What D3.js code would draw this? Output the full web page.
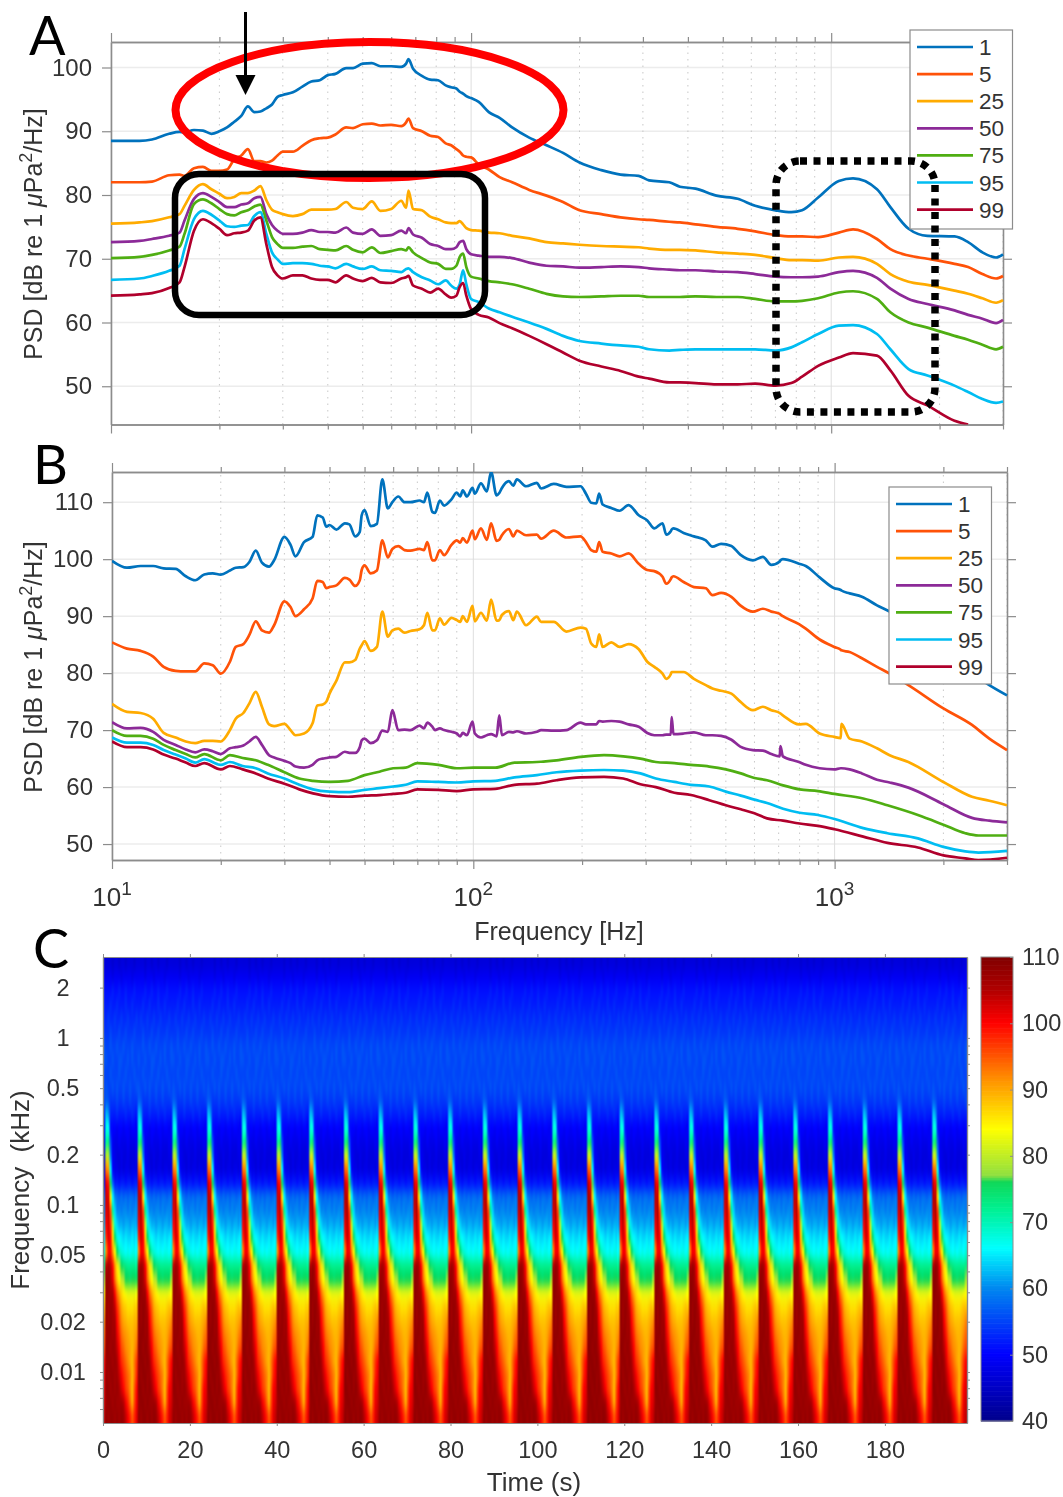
<!DOCTYPE html>
<html>
<head>
<meta charset="utf-8">
<script src="https://cdn.jsdelivr.net/npm/d3@7"></script>
<style>
  body { margin: 0; background: #fff; }
  #wrap { position: relative; width: 1063px; height: 1497px; }
  canvas, svg { position: absolute; left: 0; top: 0; }
  text { font-family: "Liberation Sans", sans-serif; fill: #333; }
</style>
</head>
<body>
<div id="wrap">
  <canvas id="spec" width="1063" height="1497"></canvas>
  <svg id="chart" width="1063" height="1497"></svg>
</div>
<script>
// values

const percentiles = ["1", "5", "25", "50", "75", "95", "99"];
const lineColors = ["#0072bd", "#ff5208", "#ffab00", "#8c2a98", "#4fae12", "#00bdf2", "#b0002c"];

// Panel A, frequency (Hz)
const freqA = [
  10,12,13,14.5,15.5,16,17,18,19,20,
  21,22,23,24,25,26,27,28,29,30,
  32,34,36,38,40,42,45,47,50,53,
  56,60,64,66,67,69,73,77,81,85,
  88,91,93,95,97,100,105,112,120,130,
  145,162,180,200,230,260,292,312,355,380,
  420,480,550,615,700,775,830,920,1050,1150,
  1340,1460,1640,1850,2200,2400,2630,2870,3000];

const a1 = [
  88.5,88.5,88.7,89.6,89.9,89.8,90.2,90.1,89.6,90,
  90.6,91.5,92.4,93.9,93,93.1,93.6,94.2,95.4,95.7,
  96.1,97,97.8,98,98.8,99,99.9,99.9,100.6,100.7,
  100.2,100.2,100.1,100.6,101.3,99.8,98.7,98.1,98,97.2,
  96.9,96.7,96.2,95.9,95.5,95.2,94.6,93,92.1,90.6,
  89,87.8,86.6,85.1,83.9,83.2,83,82.3,82,81.3,
  81,79.9,79.4,78.3,77.6,77.3,77.6,79.6,82.2,82.6,
  80.9,78.1,74.7,73.6,73.5,72.6,71,70.2,70.7];
const a5 = [
  82,82,82.1,83.1,83.2,83,84.2,84.4,83.8,83.8,
  84,85.6,86.2,87.2,85.3,85.3,85.1,85.4,86.2,86.8,
  86.8,87.7,88.6,88.9,89,89.5,90.6,90.5,91.1,91.2,
  90.9,91,90.8,91.4,92,90.5,90,89.3,89.1,88.1,
  87.8,87.2,86.8,86.2,86,85.9,84.8,84,82.8,82,
  80.8,79.9,78.9,77.6,77,76.5,76.2,76.1,75.8,75.7,
  75.4,75,74.7,74.3,73.7,73.5,73.5,73.4,74.1,74.6,
  73.1,71.5,70.5,70,69.2,68.7,67.6,66.9,67.3];
const a25 = [
  75.5,75.7,75.9,76.5,77,78.3,80.8,81.7,80.9,80.2,
  79.5,79.7,80.3,80.3,80.7,81.4,79.2,77.7,77.3,77,
  76.7,77,77.7,77.7,77.7,77.8,78.9,78,77.8,79,
  77.5,77.8,79.1,78,80.7,77.8,77.6,76.6,76.2,75.7,
  75.6,75.6,75.9,75.4,74.8,74.5,74.4,74.1,74,73.6,
  73.2,72.6,72.4,72.2,72,71.9,71.8,71.6,71.4,71.4,
  71.3,71,70.8,70.6,70.1,69.8,69.8,69.7,70.2,70.3,
  69.2,67.6,66.4,65.9,65,64.5,63.8,63.1,63.5];
const a50 = [
  72.6,72.8,73.1,73.6,74.1,76,79.4,80.3,79.7,78.9,
  78.1,78.1,78.5,78.7,79.5,79.7,77,75.3,74.4,73.9,
  73.9,74.1,74.5,74.2,74.2,74.1,74.9,74.1,73.9,74.6,
  73.6,73.7,74.4,74,74.8,73.8,73.3,72.3,72,71.5,
  71.5,71.8,72.6,72.8,71.5,70.7,70.5,70.3,70.3,70.1,
  69.4,68.9,68.8,68.6,68.7,68.8,68.7,68.5,68.3,68.2,
  68.2,68,67.9,67.6,67.2,67.1,67.1,67.2,67.9,68.1,
  67,65.3,63.7,62.9,61.9,61.2,60.6,59.9,60.4];
const a75 = [
  70.1,70.3,70.6,71.3,71.9,73.9,78.6,79.3,78.7,77.8,
  77,76.8,77.3,77.6,78.2,78.5,76,73.4,72.3,71.7,
  71.7,71.9,72,71.5,71.4,71.3,72,71.4,71,71.8,
  70.9,71.2,71.5,71.3,71.8,71,70.1,69.4,69.2,68.4,
  68.4,68.9,70.3,70.8,68.7,67.2,66.9,66.5,66.3,66,
  65.3,64.5,64.1,64,64.1,64.2,64.2,64,64,64,
  64.1,64,64,63.7,63.3,63.3,63.4,63.8,64.7,64.9,
  63.7,61.6,60,59.2,57.9,57.3,56.5,55.8,56.2];
const a95 = [
  66.7,66.9,67.3,68.1,68.9,71.5,76.2,77.5,76.9,76,
  75.1,75,75.2,75.3,76.7,77.3,73.9,71,69.9,69.2,
  69.3,69.3,69.2,68.9,68.8,68.5,69.2,68.8,68.4,68.8,
  68.2,68.1,67.9,68.4,68.5,67.9,67.1,66.6,66,66.6,
  65.8,65.3,66,68.2,66,63.7,63.2,62.2,61.6,60.9,
  60,59,57.9,57.1,56.7,56.4,56.2,55.8,55.6,55.7,
  55.8,55.8,55.8,55.8,55.6,56.1,56.9,58.2,59.5,59.6,
  58.2,55.8,52.7,51.7,50.1,49.1,48,47.4,47.6];
// 99 leaves the axes near 2450 Hz, nothing to read after that
const a99 = [
  64.2,64.4,64.6,65.4,66.3,68.7,74.4,76.2,75.6,74.7,
  73.7,74,74.1,74.4,76,76.5,72.3,68.7,67.4,66.9,
  67.4,67.4,66.9,66.7,66.7,66.3,67.4,66.9,66.5,67,
  66.3,66.2,66.9,67.1,67.3,65.8,65.3,64.7,65.3,64.4,
  63.9,64.2,65.6,66.2,64.2,62.1,61.2,60.8,59.9,59.1,
  57.9,56.6,55.3,54,53.1,52.4,51.5,51.2,50.6,50.6,
  50.5,50.3,50.3,50.4,50.1,50.5,51.5,53.2,54.5,55.2,
  54.8,52.5,48.5,47,44.6,44,null,null,null];

// Panel B, frequency (Hz) for the spiky curves 1, 5, 25, 50
const freqB = [
  10,11,12,13,13.9,15,16,17,18,19,
  20,21.2,22,23.1,24,25,26,27.2,28.1,30,
  31.2,32.2,34,35.9,37,38.3,39.2,40,41.8,44.1,
  45.4,47.1,48.5,49.1,50,52,54.1,56,58,59.7,
  62,64.5,67,71,73,74.6,77,78.3,80.8,83,
  87,90,92,93.5,96,99.5,101,105,109,112,
  116,118,120,125.5,129,132,140,150,154,167,
  181,198,205,212,219,223,228,241,254,269,
  287,303,317,334,342,352,354,358,382,408,
  440,459,485,518,548,594,633,668,705,708,
  719,797,832,909,998,1040,1044,1100,1190,1310,
  1420,1600,2000,2400,2680,3000];

const b1 = [
  99.7,98.5,98.8,98.8,98.4,98.3,97,96.3,97.3,97.5,
  97.3,98,98.5,98.6,99.5,101.5,99.4,98.7,99.8,103.9,
  102.5,100.5,103,103.9,107.7,107.3,105.7,106,105.2,106.3,
  106.1,104,104.8,107.7,108.6,105.8,106.2,114,108.9,110,
  111,110,110,110.3,110,111.7,108.3,108.1,110.3,109.4,
  110.5,111.7,111,112.1,111,112.5,111.5,113.3,111.9,115.3,
  111.2,111.6,112.5,113.7,112.9,114,112.8,113.4,112.4,113.2,
  112.7,112.8,111.5,109.9,109.8,111.5,109.6,109,108.5,109.5,
  107.7,106.8,105.4,106.3,104.3,104.9,105.2,105.4,104.6,104,
  103.3,102.2,102.7,102.3,100.8,99.8,100.4,99,99.6,99.8,
  100,99.2,98.8,96.8,94.9,94.6,94.5,94,93.4,91.9,
  90.8,88.5,84,80,77.9,76.1];
const b5 = [
  85.4,84.3,83.9,82.9,81.1,80.4,80.3,80.3,81.7,81.4,
  79.9,82,84.6,85.1,86.7,89.1,87.5,87.1,88.4,92.6,
  91.6,90,91.2,93.1,96.2,96,94.9,95.1,95.4,96.7,
  96.4,95.3,96.3,98.1,98.9,97.5,98,103.3,100.3,101.8,
  102.3,101.6,101.5,101.8,101.6,103,99.8,99.8,101.6,100.7,
  102.5,103.3,102.9,103.7,102.9,105,103.5,105.4,103.4,106.3,
  103.2,103.4,104.2,105.3,104,105,104.2,104.3,103.6,105,
  103.8,104,103,101.6,101.3,103,101.3,101,100.5,101,
  99.2,98.1,97.9,96.9,95.7,96.5,96.8,97,96,95.1,
  94.9,93.7,94.1,93.4,91.9,90.8,91.3,90.8,90.4,90.3,
  90,88.6,87.8,85.9,84.6,84.1,84,83.7,82.6,81.1,
  79.9,77.9,73.8,70.9,68.5,66.5];
const b25 = [
  74.6,73.2,73,72,69.5,68.7,68,67.7,68.1,68.1,
  68,70,72,73,74.7,76.7,74.1,71,70.7,71.1,
  70,69.1,69.4,71.2,74.3,74.5,75,76.4,78.7,81.9,
  81.9,82.3,84.3,84.9,85.6,83.9,84.6,90.8,86.4,87.5,
  87.8,87.1,87.4,87.7,88.4,90.6,87.5,87.5,89.6,88.5,
  89.7,89.3,89,90,89,91.8,89.1,90.6,89.2,92.9,
  89.2,89.3,90.2,90.9,89.3,90.8,88.4,89.9,89,89,
  87.3,88,87.8,85.2,84.6,86.8,84.6,85.4,84.6,85.1,
  84.2,82,81.1,79.9,79,79.8,80.2,80.2,80.2,79,
  77.9,77.3,76.9,76.4,75,73.5,74.1,73.5,73,72.9,
  72.6,71,71.1,69.4,68.8,68.6,71.1,68.5,68,66.8,
  65.6,64.4,60.9,58.3,57.6,56.8];
const b50 = [
  71.4,70.3,70.4,69.7,68.3,67.4,66.6,66.1,66.6,66.3,
  65.8,66.8,67,67.3,68,68.8,67.4,65.6,65.2,64.6,
  64.2,63.6,63.4,63.9,64.7,65,65.1,65.2,65.3,66.2,
  66,66,67,68.2,68.5,67.7,68.2,69.9,69.7,73.5,
  70,70.1,70,70.8,70.3,71.3,70.6,70,70.3,70,
  69.7,69.4,68.9,69.5,69.1,71.5,69.4,68.7,69.1,69.3,
  68.9,72.6,69.1,69.7,69.6,69.8,69.4,69.7,70,69.9,
  70,71.3,71,71,71,71.6,71.5,71.6,71.5,71,
  70.6,69.5,69.1,69.1,69.2,69.2,72.3,69.3,69.4,69.6,
  69.1,69.1,69,68.3,67.1,66.5,66.4,65.8,65.4,67.2,
  65.4,64.4,63.9,63.3,63.1,63.3,63.3,63.1,62.4,61.3,
  60.8,59.9,57,54.6,54.1,53.8];

// Panel B, frequency (Hz) for the smooth curves 75, 95, 99
const freqBLow = [
  10,11,12,13,13.9,15,16,17,18,20,
  21.2,23,25,27,30,33,36,40,45,50,
  55,60,65,70,80,90,100,115,130,150,
  170,198,230,260,290,320,360,400,450,500,
  550,600,650,720,800,900,1000,1200,1400,1700,
  2000,2300,2500,3000];

const b75 = [
  70,69,69,68.5,67.4,66.5,65.8,65.2,65.8,64.7,
  65.6,65.1,64.7,63.9,62.6,61.5,61.1,60.9,61.1,62.1,
  62.7,63.3,63.4,64.2,63.9,63.3,63.4,63.4,64.3,64.4,
  64.7,65.3,65.6,65.4,65,64.4,64.2,63.9,63.6,63.1,
  62.4,61.6,61.2,60.3,59.6,59.3,58.8,58,56.8,55.1,
  53.4,51.9,51.5,51.5];
const b95 = [
  68.7,67.8,67.8,67.4,66.5,65.7,65,64.3,64.9,63.9,
  64.4,63.7,63.3,62.4,61.5,60.4,59.6,59.2,59.1,59.5,
  59.8,60.1,60.4,61,60.9,60.8,61,61.1,61.7,62.1,
  62.6,62.9,63,62.9,62.4,61.5,60.9,60.4,60.1,59.2,
  58.5,57.8,57.2,56.2,55.5,55.1,54.4,52.8,51.9,51,
  49.5,48.7,48.5,48.8];
const b99 = [
  68,67,67,66.6,65.7,65,64.3,63.7,64.2,63.1,
  63.7,63.1,62.4,61.5,60.6,59.6,58.9,58.4,58.3,58.5,
  58.6,58.8,59,59.6,59.5,59.3,59.6,59.7,60.4,60.6,
  61.2,61.7,61.8,61.5,60.5,60,59,58.6,57.7,56.8,
  56.1,55.4,54.5,54.1,53.6,53.2,52.6,51.3,50.2,49.4,
  48,47.5,47.2,47.6];

const psdTicksA = [50, 60, 70, 80, 90, 100];
const psdTicksB = [50, 60, 70, 80, 90, 100, 110];
const freqMajor = [10, 100, 1000];
const freqMinor = [20,30,40,50,60,70,80,90,200,300,400,500,600,700,800,900,2000,3000];

// Panel C. One typical blast cycle per frequency row, 0.5 s steps after each
// onset, levels in dB estimated by eye. Pixel grain of the original is not
// reproduced, only the level pattern.
const specFreqs = [3,2.48,2.05,1.7,1.4,1.16,.96,.8,.66,.55,.45,.37,.31,.26,.21,.175,.145,.12,.1,.082,.068,.056,.046,.038,.032,.026,.022,.018,.015,.012,.01,.0083,.0068,.0056];
const cycleLevels = [
  [47,47,47,46,47,47,46,47,47,46,47,47,47,46,47,47],
  [49,49,49,48,49,49,49,48,49,49,49,49,48,49,49,49],
  [51,51,51,52,51,51,52,51,51,52,51,51,51,52,51,51],
  [52,52,53,52,52,53,52,52,52,53,52,52,53,52,52,52],
  [53,54,53,53,54,53,53,54,53,53,54,53,53,53,54,53],
  [54,54,55,54,54,54,55,54,54,55,54,54,54,55,54,54],
  [55,55,56,55,55,56,55,55,56,55,55,55,56,55,55,56],
  [56,55,55,56,55,55,56,56,55,55,56,55,56,55,55,56],
  [55,55,56,55,55,55,56,55,55,56,55,55,55,56,55,55],
  [56,55,55,56,55,56,55,55,56,55,55,56,55,55,56,55],
  [57,56,54,54,54,55,54,54,55,54,54,55,54,54,54,55],
  [63,61,53,52,52,53,52,52,52,53,52,52,53,52,52,52],
  [68,67,52,50,50,49,50,50,49,50,50,49,50,50,49,50],
  [72,74,56,49,48,48,49,48,48,48,49,48,48,48,49,48],
  [80,80,60,49,48,47,47,48,47,47,48,47,47,47,48,47],
  [94,92,66,51,48,48,47,48,47,48,48,47,48,48,47,48],
  [103,100,76,58,52,52,51,52,52,51,52,52,51,52,52,51],
  [104,104,86,66,60,58,57,58,57,58,57,58,58,57,58,58],
  [103,105,96,72,64,60,60,59,60,60,59,60,59,60,60,59],
  [101,104,98,80,68,64,62,62,61,62,62,61,62,62,61,62],
  [98,103,100,88,76,68,66,65,64,65,64,64,65,64,65,65],
  [92,100,100,92,84,76,70,68,67,66,67,66,67,67,66,68],
  [105,107,105,100,92,86,80,76,74,73,72,72,72,72,72,73],
  [108,108,106,102,94,88,84,80,78,76,76,75,76,76,76,78],
  [108,108,107,106,100,94,90,87,85,83,82,82,82,82,83,84],
  [108,107,108,107,104,98,94,90,88,87,86,86,86,87,88,88],
  [108,107,108,107,106,100,96,92,90,89,88,88,88,89,90,92],
  [107,108,108,107,107,102,98,94,92,91,90,89,89,90,92,94],
  [108,108,107,108,107,104,100,96,94,92,91,90,89,91,94,96],
  [107,108,108,107,108,106,102,98,96,94,92,90,89,93,97,100],
  [108,107,108,108,107,107,104,101,98,96,94,92,89,93,98,101],
  [108,108,107,108,107,108,106,103,100,97,95,92,89,95,100,102],
  [107,108,108,107,108,107,107,107,105,101,98,94,90,96,101,103],
  [108,107,108,108,107,108,107,108,107,104,101,98,95,98,102,104]
];
const pulseTimes = [0.3,8,16,24,32,39.7,47.5,55.5,63.3,71.3,79.1,87.2,95.3,103.1,111.1,118.9,126.9,134.8,142.9,151,158.8,166.8,174.7,182.8,190.8,198.6];
const pulseGain = [0.97,1,0.98,1,0.99,0.98,1,1.01,0.98,1,0.99,1,1.01,1,1.02,0.99,1,1,0.98,1,0.99,1,1,0.99,1.01,0.97];

const specTicksY = [2, 1, 0.5, 0.2, 0.1, 0.05, 0.02, 0.01];
const specMinorY = [0.9,0.8,0.7,0.6,0.4,0.3,0.09,0.08,0.07,0.06,0.04,0.03,0.009,0.008,0.007,0.006];
const specTicksT = [0,20,40,60,80,100,120,140,160,180];
const cbarTicks = [40,50,60,70,80,90,100,110];

// colour bar stops as seen next to panel C
const cbarStops = [40, 50, 60, 66, 72, 76, 77, 84, 91, 100, 105, 110];
const cbarColors = ["#00008c","#0000ff","#0088f0","#00ffff","#00f090","#10d858","#90e040","#ffff00","#ff9800","#ff0000","#b00000","#800000"];

const svg = d3.select("#chart");
const gray = "#8c8c8c";

function styleAxis(g) {
  g.selectAll(".domain").attr("stroke", gray).attr("stroke-width", 1.6);
  g.selectAll(".tick line").attr("stroke", gray).attr("stroke-width", 1.2);
}

// A and B share the same frame
function psdPanel(o) {
  const x = d3.scaleLog().domain([10, 3000]).range(o.xRange);
  const y = d3.scaleLinear().domain(o.yDomain).range(o.yRange);
  const g = svg.append("g");

  // grid
  g.append("g").selectAll("line").data(o.yTicks).join("line")
    .attr("x1", o.xRange[0]).attr("x2", o.xRange[1])
    .attr("y1", d => y(d)).attr("y2", d => y(d))
    .attr("stroke", "#ececec").attr("stroke-width", 1.5);
  g.append("g").selectAll("line").data(freqMinor).join("line")
    .attr("x1", d => x(d)).attr("x2", d => x(d))
    .attr("y1", o.yRange[0]).attr("y2", o.yRange[1])
    .attr("stroke", "#c8c8c8").attr("stroke-dasharray", "1.5,5");
  g.append("g").selectAll("line").data(freqMajor).join("line")
    .attr("x1", d => x(d)).attr("x2", d => x(d))
    .attr("y1", o.yRange[0]).attr("y2", o.yRange[1])
    .attr("stroke", "#dedede");

  // frame and ticks
  const [bottom, top] = o.yRange;
  [[d3.axisBottom, bottom], [d3.axisTop, top]].forEach(([ax, py]) => {
    g.append("g").attr("transform", `translate(0,${py})`)
      .call(ax(x).tickValues(freqMinor).tickFormat("").tickSizeInner(5).tickSizeOuter(0)).call(styleAxis);
    g.append("g").attr("transform", `translate(0,${py})`)
      .call(ax(x).tickValues(freqMajor).tickFormat("").tickSizeInner(9).tickSizeOuter(0)).call(styleAxis);
  });
  const left = g.append("g").attr("transform", `translate(${o.xRange[0]},0)`)
    .call(d3.axisLeft(y).tickValues(o.yTicks).tickSizeInner(9).tickSizeOuter(0).tickPadding(10)).call(styleAxis);
  left.selectAll("text").style("font-size", "24px").attr("fill", "#333");
  g.append("g").attr("transform", `translate(${o.xRange[1]},0)`)
    .call(d3.axisRight(y).tickValues(o.yTicks).tickFormat("").tickSizeInner(9).tickSizeOuter(0)).call(styleAxis);

  // y title
  const t = g.append("text")
    .attr("transform", `translate(42,${o.titleY})rotate(-90)`)
    .attr("text-anchor", "middle").style("font-size", "25px");
  t.append("tspan").text("PSD [dB re 1 ");
  t.append("tspan").text("\u03bc").style("font-style", "italic");
  t.append("tspan").text("Pa");
  t.append("tspan").text("2").attr("dy", -10).style("font-size", "18px");
  t.append("tspan").text("/Hz]").attr("dy", 10);

  // curves
  const clipId = "clip" + o.name;
  svg.append("clipPath").attr("id", clipId).append("rect")
    .attr("x", o.xRange[0]).attr("y", o.yRange[1])
    .attr("width", o.xRange[1] - o.xRange[0] + 2).attr("height", o.yRange[0] - o.yRange[1]);
  const lines = g.append("g").attr("clip-path", `url(#${clipId})`);
  o.series.forEach((s, i) => {
    const line = d3.line()
      .defined(d => d != null)
      .x((d, j) => x(s.freq[j]))
      .y(d => y(d))
      .curve(d3.curveMonotoneX);
    lines.append("path").datum(s.values)
      .attr("d", line).attr("fill", "none")
      .attr("stroke", lineColors[i]).attr("stroke-width", 2.7)
      .attr("stroke-linejoin", "round");
  });

  // legend
  const lg = svg.append("g").attr("transform", `translate(${o.legend[0]},${o.legend[1]})`);
  lg.append("rect").attr("width", 102.5).attr("height", o.legendH)
    .attr("fill", "#fff").attr("stroke", "#8c8c8c").attr("stroke-width", 1.2);
  percentiles.forEach((p, i) => {
    const py = 17 + i * 27.1;
    lg.append("line").attr("x1", 7).attr("x2", 63).attr("y1", py).attr("y2", py)
      .attr("stroke", lineColors[i]).attr("stroke-width", 2.7);
    lg.append("text").attr("x", 69).attr("y", py + 8).text(p).style("font-size", "22.5px");
  });
  return {x, y};
}

const panelA = psdPanel({
  name: "A", xRange: [111, 1003], yRange: [424.5, 42], yDomain: [44, 104],
  yTicks: psdTicksA, titleY: 234, legend: [910, 30], legendH: 199,
  series: [a1, a5, a25, a50, a75, a95, a99].map(v => ({freq: freqA, values: v}))
});
const panelB = psdPanel({
  name: "B", xRange: [112, 1007], yRange: [860, 472], yDomain: [47.2, 115.3],
  yTicks: psdTicksB, titleY: 667, legend: [889, 487], legendH: 197,
  series: [
    {freq: freqB, values: b1}, {freq: freqB, values: b5}, {freq: freqB, values: b25}, {freq: freqB, values: b50},
    {freq: freqBLow, values: b75}, {freq: freqBLow, values: b95}, {freq: freqBLow, values: b99}]
});

// B x labels
freqMajor.forEach((f, i) => {
  const t = svg.append("text").attr("x", panelB.x(f)).attr("y", 906)
    .attr("text-anchor", "middle").style("font-size", "26px");
  t.append("tspan").text("10");
  t.append("tspan").text(i + 1).attr("dy", -11).style("font-size", "19px");
});
svg.append("text").attr("x", 559).attr("y", 940).attr("text-anchor", "middle")
  .style("font-size", "25px").text("Frequency [Hz]");

// annotations on A
svg.append("ellipse").attr("cx", 369.5).attr("cy", 110).attr("rx", 194).attr("ry", 68)
  .attr("fill", "none").attr("stroke", "#ff0000").attr("stroke-width", 8);
svg.append("rect").attr("x", 175).attr("y", 174).attr("width", 310).attr("height", 141).attr("rx", 24)
  .attr("fill", "none").attr("stroke", "#000").attr("stroke-width", 6.5);
svg.append("rect").attr("x", 776).attr("y", 161).attr("width", 159).attr("height", 251).attr("rx", 24)
  .attr("fill", "none").attr("stroke", "#000").attr("stroke-width", 7.5).attr("stroke-dasharray", "7,6.5");
svg.append("line").attr("x1", 245.5).attr("x2", 245.5).attr("y1", 12).attr("y2", 78)
  .attr("stroke", "#000").attr("stroke-width", 3);
svg.append("path").attr("d", "M235.5,75L255.5,75L245.5,95Z").attr("fill", "#000");

// panel letters
[["A", 29, 55], ["B", 33, 484], ["C", 33, 968]].forEach(([s, px, py]) => {
  svg.append("text").attr("x", px).attr("y", py).text(s)
    .style("font-family", "Lato, sans-serif").style("font-size", "54px").style("fill", "#000");
});

// Panel C
const tScale = d3.scaleLinear().domain([0, 198.9]).range([103, 967]);
const fScale = d3.scaleLog().domain([3.05, 0.00495]).range([957, 1423]);
const cbarScale = d3.scaleLinear().domain([40, 110]).range([1421, 957]);
const jet = d3.scaleLinear().domain(cbarStops).range(cbarColors).clamp(true);

const stepT = 0.5;
const cols = d3.range(0, 199, stepT);
const off = document.createElement("canvas");
off.width = cols.length;
off.height = specFreqs.length;
const offCtx = off.getContext("2d");
const rowBase = cycleLevels.map(r => d3.min(r));
cols.forEach((t, c) => {
  let k = d3.bisectRight(pulseTimes, t) - 1;
  const phase = k < 0 ? 15 : Math.min(15, Math.floor((t - pulseTimes[k]) / stepT));
  const gain = pulseGain[Math.max(k, 0)];
  specFreqs.forEach((f, r) => {
    const v = rowBase[r] + (cycleLevels[r][phase] - rowBase[r]) * gain;
    offCtx.fillStyle = jet(v);
    offCtx.fillRect(c, r, 1, 1);
  });
});
const ctx = document.getElementById("spec").getContext("2d");
ctx.imageSmoothingEnabled = true;
ctx.imageSmoothingQuality = "high";
ctx.drawImage(off, tScale(0), fScale(3.05), tScale(198.9) - tScale(0), fScale(0.00495) - fScale(3.05));

const cg = svg.append("g");
function smallAxis(sel) {
  sel.selectAll(".domain").attr("stroke", gray).attr("stroke-width", 1.2);
  sel.selectAll(".tick line").attr("stroke", gray);
  sel.selectAll("text").style("font-size", "23.5px").attr("fill", "#333");
}
cg.append("g").attr("transform", "translate(0,1423)")
  .call(d3.axisBottom(tScale).tickValues(specTicksT).tickFormat(d3.format("d")).tickSizeInner(3).tickSizeOuter(0).tickPadding(15)).call(smallAxis);
cg.append("g").attr("transform", "translate(0,957)")
  .call(d3.axisTop(tScale).tickValues(specTicksT).tickFormat("").tickSizeInner(3).tickSizeOuter(0)).call(smallAxis);
const specLeft = cg.append("g").attr("transform", "translate(103,0)")
  .call(d3.axisLeft(fScale).tickValues(specTicksY).tickFormat(d => d).tickSizeInner(3).tickSizeOuter(0)).call(smallAxis);
specLeft.selectAll("text").attr("text-anchor", "middle").attr("x", -40);
[[d3.axisLeft, 103], [d3.axisRight, 967]].forEach(([ax, px]) => {
  cg.append("g").attr("transform", `translate(${px},0)`)
    .call(ax(fScale).tickValues(specMinorY).tickFormat("").tickSizeInner(3).tickSizeOuter(0)).call(smallAxis);
});
cg.append("g").attr("transform", "translate(967,0)")
  .call(d3.axisRight(fScale).tickValues(specTicksY).tickFormat("").tickSizeInner(3).tickSizeOuter(0)).call(smallAxis);
cg.append("text").attr("transform", "translate(29,1190)rotate(-90)").attr("text-anchor", "middle")
  .style("font-size", "26px").style("white-space", "pre").text("Frequency  (kHz)");
cg.append("text").attr("x", 534).attr("y", 1491).attr("text-anchor", "middle")
  .style("font-size", "26px").text("Time (s)");

// colour bar
const barLevels = d3.range(40, 110, 0.25);
cg.append("g").selectAll("rect").data(barLevels).join("rect")
  .attr("x", 981).attr("width", 32)
  .attr("y", d => cbarScale(d + 0.25)).attr("height", d => cbarScale(d) - cbarScale(d + 0.25) + 0.6)
  .attr("fill", d => jet(d));
cg.append("rect").attr("x", 981).attr("y", 957).attr("width", 32).attr("height", 464)
  .attr("fill", "none").attr("stroke", gray).attr("stroke-width", 1);
const cbarAxis = cg.append("g").attr("transform", "translate(1013,0)")
  .call(d3.axisRight(cbarScale).tickValues(cbarTicks).tickSizeInner(-3).tickSizeOuter(0).tickPadding(9)).call(smallAxis);
cbarAxis.select(".domain").remove();
</script>
</body>
</html>
